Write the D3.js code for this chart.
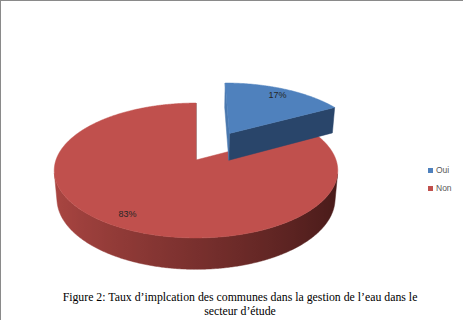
<!DOCTYPE html>
<html lang="fr">
<head>
<meta charset="UTF-8">
<title>Taux d'implication des communes</title>
<script src="https://cdn.jsdelivr.net/npm/d3@7"></script>
<style>
  body { margin: 0; background: #fff; }
  svg { display: block; }
</style>
</head>
<body>
<script>
  // data
  const categories = ["Oui", "Non"];
  const values = [17, 83];
  const labels = ["17%", "83%"];
  const colors = ["#4f81bd", "#c0504d"];
  const sideLight = ["#4a78ae", "#ab4642"];
  const sideDark = ["#1d3352", "#471a19"];
  const explode = [0.5, 0];
  const captionLines = [
    "Figure 2: Taux d\u2019implcation des communes dans la gestion de l\u2019eau dans le",
    "secteur d\u2019étude"
  ];

  const width = 463, height = 320;

  const svg = d3.select("body").append("svg")
    .attr("width", width)
    .attr("height", height);
  const defs = svg.append("defs");

  // frame (only top and left edges show in the source)
  svg.append("line").attr("x1", 0).attr("x2", width).attr("y1", 0.5).attr("y2", 0.5)
    .attr("stroke", "#8a8a8a");
  svg.append("line").attr("x1", 0.5).attr("x2", 0.5).attr("y1", 0).attr("y2", height)
    .attr("stroke", "#8a8a8a");

  // simple perspective camera for the 3d pie
  const cx = 196, cy = 160;
  const elev = Math.asin(0.47);
  const sinE = Math.sin(elev), cosE = Math.cos(elev);
  const dist = 5.67, focal = 794;
  const depth = 0.231;
  const cam = [0, dist * cosE, dist * sinE];

  function project(u, v, h) {
    const yc = v * sinE - h * cosE;
    const zc = dist - v * cosE - h * sinE;
    return [cx + focal * u / zc, cy + focal * yc / zc];
  }

  const pie = d3.pie().sort(null).value(d => d)(values);
  const line = d3.line().curve(d3.curveLinearClosed);

  // point on the rim of a slice, in the pie plane
  function rim(a, off, r = 1) {
    return [off[0] + r * Math.sin(a), off[1] - r * Math.cos(a)];
  }

  function visible(n, p) {
    const d = [cam[0] - p[0], cam[1] - p[1], cam[2] - p[2]];
    return n[0] * d[0] + n[1] * d[1] + n[2] * d[2] > 0;
  }

  const chart = svg.append("g");

  const slices = pie.map((p, i) => {
    const mid = (p.startAngle + p.endAngle) / 2;
    const off = [explode[i] * Math.sin(mid), -explode[i] * Math.cos(mid)];
    return { p, i, mid, off, z: -(off[1] + 0.5 * -Math.cos(mid)) };
  });
  // farther slices first
  slices.sort((a, b) => a.z - b.z);

  slices.forEach(s => {
    const { p, i, off } = s;
    const g = chart.append("g");
    const shade = d3.interpolateRgb(sideLight[i], sideDark[i]);
    const faces = [];

    // outer wall: runs of visible pieces, each run as one path with a gradient
    const step = Math.PI / 360;
    let run = [];
    const runs = [];
    for (let a = p.startAngle; a < p.endAngle - 1e-9; a += step) {
      const b = Math.min(a + step, p.endAngle);
      const m = (a + b) / 2;
      const n = [Math.sin(m), -Math.cos(m), 0];
      const c = rim(m, off);
      if (visible(n, [c[0], c[1], -depth / 2])) {
        run.push([a, b, n]);
      } else if (run.length) {
        runs.push(run); run = [];
      }
    }
    if (run.length) runs.push(run);

    runs.forEach((r, k) => {
      const topPts = [], botPts = [];
      const angles = [r[0][0]].concat(r.map(d => d[1]));
      angles.forEach(a => {
        const q = rim(a, off);
        topPts.push(project(q[0], q[1], 0));
        botPts.push(project(q[0], q[1], -depth));
      });
      const xs = topPts.map(d => d[0]);
      const x0 = d3.min(xs), x1 = d3.max(xs);
      const id = `wall-${i}-${k}`;
      const grad = defs.append("linearGradient")
        .attr("id", id)
        .attr("gradientUnits", "userSpaceOnUse")
        .attr("x1", x0).attr("x2", x1).attr("y1", 0).attr("y2", 0);
      const stops = r.map((d, j) => ({
        x: (topPts[j][0] + topPts[j + 1][0]) / 2,
        c: shade((d[2][0] + 1) / 2)
      })).sort((a, b) => a.x - b.x);
      grad.selectAll("stop").data(stops.filter((d, j) => j % 4 === 0)).join("stop")
        .attr("offset", d => (d.x - x0) / (x1 - x0))
        .attr("stop-color", d => d.c);
      faces.push({
        pts: topPts.concat(botPts.reverse()),
        fill: `url(#${id})`,
        z: 1e9
      });
    });

    // the two cut faces
    [[p.startAngle, -1], [p.endAngle, 1]].forEach(([a, sgn]) => {
      const n = [sgn * Math.cos(a), sgn * Math.sin(a), 0];
      const r = rim(a, off), hr = rim(a, off, 0.5);
      if (!visible(n, [hr[0], hr[1], -depth / 2])) return;
      faces.push({
        pts: [project(off[0], off[1], 0), project(r[0], r[1], 0),
              project(r[0], r[1], -depth), project(off[0], off[1], -depth)],
        fill: shade((n[0] + 1) / 2),
        z: -hr[1]
      });
    });

    faces.sort((a, b) => a.z - b.z);
    g.selectAll("path.side").data(faces).join("path")
      .attr("class", "side")
      .attr("d", d => line(d.pts))
      .attr("fill", d => d.fill)
      .attr("stroke", d => d.fill)
      .attr("stroke-width", 0.5)
      .attr("stroke-linejoin", "round");

    // top face
    const top = [project(off[0], off[1], 0)];
    const nSteps = Math.ceil((p.endAngle - p.startAngle) / step);
    for (let k = 0; k <= nSteps; k++) {
      const a = p.startAngle + (p.endAngle - p.startAngle) * k / nSteps;
      const r = rim(a, off);
      top.push(project(r[0], r[1], 0));
    }
    g.append("path")
      .attr("d", line(top))
      .attr("fill", colors[i])
      .attr("stroke", colors[i])
      .attr("stroke-width", 0.5);
  });

  // data labels
  slices.forEach(s => {
    const r = rim(s.mid, s.off, 0.85);
    const [x, y] = project(r[0], r[1], 0);
    chart.append("text")
      .attr("x", x)
      .attr("y", y)
      .attr("dy", "0.35em")
      .attr("text-anchor", "middle")
      .attr("font-family", "'Liberation Sans', Arial, sans-serif")
      .attr("font-size", 9)
      .attr("fill", "#262626")
      .text(labels[s.i]);
  });

  // legend
  const legend = svg.append("g").attr("transform", "translate(428,168)");
  categories.forEach((c, i) => {
    const item = legend.append("g").attr("transform", `translate(0,${i * 18})`);
    item.append("rect")
      .attr("width", 5).attr("height", 5)
      .attr("fill", colors[i]);
    item.append("text")
      .attr("x", 8)
      .attr("y", 2.5)
      .attr("dy", "0.35em")
      .attr("font-family", "'Liberation Sans', Arial, sans-serif")
      .attr("font-size", 8.5)
      .attr("fill", "#595959")
      .text(c);
  });

  // caption
  svg.append("g").selectAll("text").data(captionLines).join("text")
    .attr("x", 240)
    .attr("y", (d, i) => 301 + i * 14)
    .attr("text-anchor", "middle")
    .attr("font-family", "'Liberation Serif', 'Times New Roman', serif")
    .attr("font-size", 11.8)
    .attr("fill", "#000")
    .text(d => d);
</script>
</body>
</html>
